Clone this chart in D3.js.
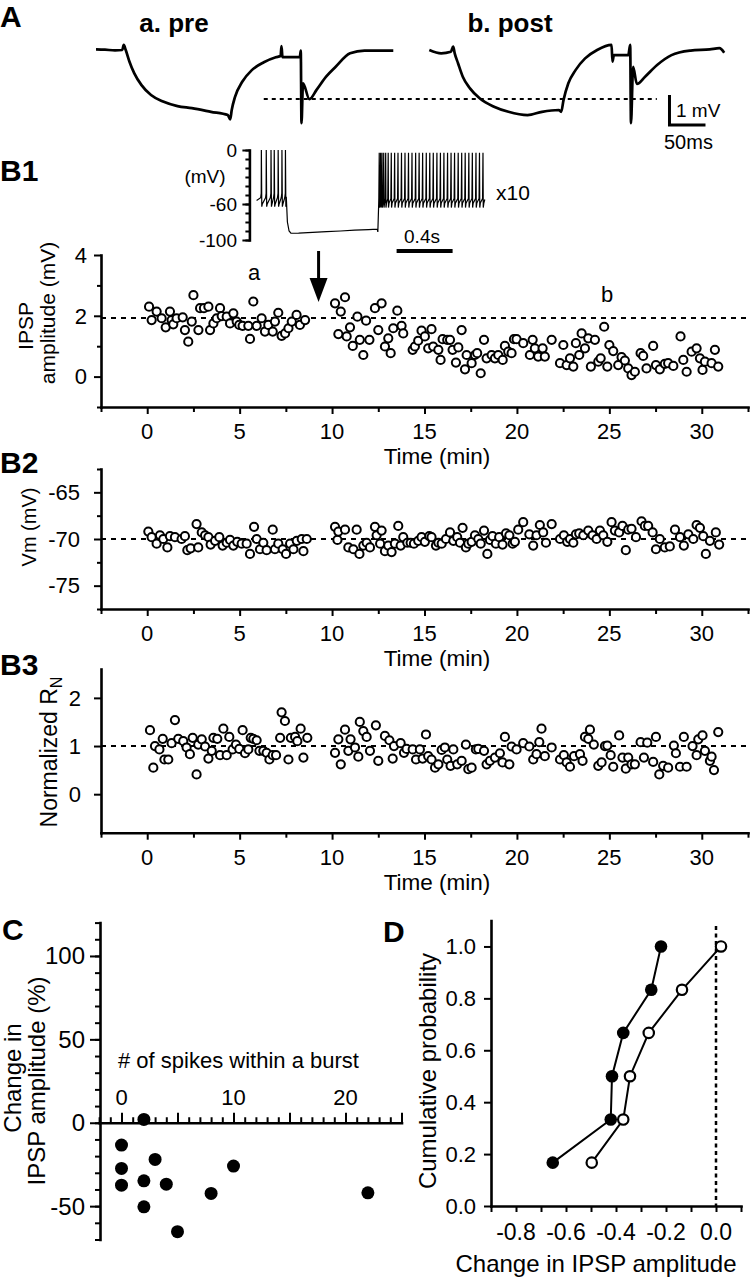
<!DOCTYPE html>
<html><head><meta charset="utf-8">
<script src="https://cdn.jsdelivr.net/npm/d3@7"></script>
<style>body{margin:0;background:#fff}svg{display:block}</style>
</head><body>
<svg id="fig" width="752" height="1280"></svg>
<script>
// ================= DATA =================
// Panel A traces: [time ms, mV relative to baseline]
const aPre = [[0,0.02],[12.5,0.01],[26.4,-0.01],[36.5,0],[38.5,0.17],[41.3,0],[46.5,-0.39],[53.2,-0.78],[63.2,-1.17],[76.4,-1.5],[93.1,-1.72],[113.2,-1.87],[133.1,-1.94],[159.7,-2.06],[183.1,-2.17],[186.4,-2.31],[188.5,-2.0],[193.1,-1.56],[203.1,-1.06],[216.4,-0.67],[233.1,-0.41],[249.7,-0.24],[256.4,-0.2],[257.6,0.13],[259.0,-0.24],[283.1,-0.24],[284.4,-0.02],[285.4,-2.44],[287.5,-1.11],[296.4,-1.64],[306.3,-1.33],[319.6,-0.89],[332.9,-0.56],[352.9,-0.11],[372.9,-0.02],[412.9,-0.02]];
const aPost = [[0,0],[16.5,-0.11],[29.9,-0.06],[33.2,0.11],[35.3,-0.11],[39.9,-0.44],[46.5,-0.89],[56.5,-1.28],[69.9,-1.61],[89.9,-1.89],[109.9,-2.06],[136.5,-2.17],[156.5,-2.06],[179.9,-2.0],[183.2,-2.06],[186.4,-1.67],[193.1,-1.11],[203.1,-0.67],[216.4,-0.28],[233.1,0],[253.1,0.17],[254.4,-0.39],[256.4,-0.17],[276.4,-0.17],[279.0,0.17],[280.1,-2.44],[283.1,-0.56],[288.3,-1.13],[299.7,-0.89],[316.4,-0.5],[336.4,-0.17],[362.9,-0.02],[389.6,0.02],[402.9,0.06],[409.6,-0.09]];
const aDottedLevel = -1.63;

// B1 inset: spike times (s) and hyperpolarised segment
const insetPreSpikes = [0.034,0.069,0.103,0.126,0.154,0.181,0.206];
const insetHyper = [[0.212,-52],[0.22,-80],[0.232,-90],[0.245,-92.5],[0.3,-92.3],[0.4,-91.5],[0.5,-90.8],[0.6,-90],[0.7,-89],[0.8,-88.5],[0.862,-88],[0.866,-91],[0.872,-60]];
const insetPostSpikes = [0.876,0.886,0.896,0.908,0.922,0.940,0.962,0.986,1.010,1.035,1.060,1.085,1.110,1.136,1.161,1.186,1.212,1.237,1.262,1.288,1.313,1.338,1.364,1.389,1.414,1.440,1.465,1.490,1.516,1.541,1.567,1.592,1.617];

// B1: IPSP amplitude (mV) vs time (min)
const b1Data = [[0.10,2.30],[0.24,1.86],[0.51,2.14],[0.78,1.92],[1.00,1.62],[1.23,2.14],[1.32,1.86],[1.41,1.72],[1.59,1.92],[1.92,1.95],[2.04,1.53],[2.22,1.15],[2.41,1.81],[2.50,2.68],[2.77,1.53],[2.86,2.25],[3.07,2.25],[3.31,2.30],[3.40,1.53],[3.58,1.75],[3.76,1.92],[3.94,2.25],[4.03,1.99],[4.30,1.97],[4.48,1.75],[4.66,2.08],[4.84,1.81],[4.98,1.70],[5.16,1.67],[5.47,1.67],[5.56,1.24],[5.74,2.47],[5.92,1.67],[6.19,1.92],[6.37,1.48],[6.55,1.70],[6.79,1.48],[6.91,1.81],[7.09,2.10],[7.27,1.34],[7.46,1.42],[7.64,1.59],[7.82,1.81],[8.08,2.03],[8.26,1.70],[8.54,1.86],
[10.16,2.41],[10.34,1.40],[10.47,2.14],[10.70,2.61],[10.79,1.32],[10.97,1.62],[11.12,1.01],[11.37,1.97],[11.50,1.21],[11.69,0.71],[11.84,1.84],[12.02,1.21],[12.32,2.25],[12.50,1.53],[12.68,2.41],[12.86,0.99],[13.04,1.26],[13.17,0.77],[13.31,1.59],[13.53,2.17],[13.76,1.67],[13.85,1.42],[14.36,0.88],[14.48,0.99],[14.66,1.18],[14.84,1.51],[15.02,1.32],[15.20,0.93],[15.38,1.56],[15.47,0.99],[15.75,0.88],[15.87,0.55],[15.98,1.23],[16.23,1.21],[16.38,1.21],[16.52,0.88],[16.70,0.46],[16.83,0.96],[17.01,1.53],[17.19,0.24],[17.28,0.71],[17.55,0.44],[17.73,0.71],[17.85,0.77],[18.04,0.11],[18.22,1.21],[18.36,0.60],[18.63,0.71],[18.81,0.60],[18.99,0.71],[19.23,0.55],[19.35,1.01],[19.53,0.82],[19.71,0.77],[19.84,1.23],[19.98,1.23],[20.34,1.10],[20.70,0.71],[20.85,1.21],[20.97,0.93],[21.15,0.66],[21.39,0.93],[21.51,0.66],[21.88,1.21],[22.33,0.44],[22.51,1.04],[22.69,0.38],[22.87,0.60],[23.05,0.33],[23.19,1.10],[23.37,0.71],[23.50,1.42],[23.68,0.93],[23.86,1.26],[24.00,0.33],[24.22,1.21],[24.40,0.49],[24.53,0.60],[24.72,1.64],[24.89,0.33],[25.00,1.04],[25.21,0.84],[25.48,0.38],[25.66,0.64],[25.84,0.53],[26.02,0.27],[26.20,0.05],[26.38,0.16],[26.69,0.77],[26.83,0.68],[27.01,0.27],[27.37,1.01],[27.52,0.38],[27.73,0.24],[28.00,0.42],[28.18,0.44],[28.46,0.35],[28.85,1.32],[29.00,0.55],[29.18,0.16],[29.45,0.82],[29.72,0.93],[29.90,0.60],[30.04,0.22],[30.17,0.49],[30.53,0.44],[30.71,0.88],[30.89,0.33]];
const b1Baseline = 1.93;

// B2: Vm (mV) vs time (min)
const b2Data = [[0.06,-69.2],[0.24,-69.8],[0.51,-70.5],[0.69,-69.6],[0.87,-70.0],[1.09,-70.9],[1.23,-69.7],[1.50,-69.8],[1.86,-70.0],[2.04,-69.7],[2.17,-71.2],[2.35,-71.0],[2.67,-68.4],[2.76,-70.9],[2.95,-69.3],[3.13,-69.6],[3.31,-69.8],[3.43,-70.6],[3.67,-70.2],[3.90,-69.8],[4.08,-70.7],[4.30,-70.4],[4.48,-70.1],[4.66,-70.7],[4.87,-70.3],[5.11,-70.5],[5.38,-70.5],[5.56,-71.6],[5.78,-68.7],[5.92,-70.0],[6.10,-71.1],[6.28,-70.4],[6.46,-71.2],[6.79,-69.0],[6.91,-71.1],[7.09,-70.5],[7.33,-71.1],[7.51,-71.6],[7.73,-70.5],[7.91,-71.1],[8.09,-70.2],[8.36,-70.0],[8.45,-71.3],[8.63,-70.0],
[10.16,-68.7],[10.29,-70.1],[10.34,-69.2],[10.70,-69.0],[10.88,-70.9],[11.15,-71.1],[11.33,-69.0],[11.48,-71.6],[11.69,-70.7],[11.87,-70.4],[12.05,-70.9],[12.32,-68.7],[12.41,-69.6],[12.60,-70.5],[12.68,-69.1],[12.86,-71.3],[13.04,-70.7],[13.22,-71.4],[13.40,-70.5],[13.58,-68.6],[13.71,-70.7],[13.85,-69.8],[14.07,-70.4],[14.25,-70.4],[14.43,-70.5],[14.66,-70.2],[14.84,-69.8],[15.02,-70.3],[15.26,-69.7],[15.38,-69.8],[15.62,-70.7],[15.75,-70.4],[15.93,-70.5],[16.16,-70.0],[16.38,-69.3],[16.56,-70.2],[16.77,-69.8],[16.92,-70.4],[17.06,-68.8],[17.24,-70.9],[17.37,-70.5],[17.55,-70.3],[17.73,-69.6],[17.91,-70.0],[18.04,-70.5],[18.22,-69.1],[18.40,-71.6],[18.54,-70.1],[18.68,-69.7],[18.86,-70.5],[19.04,-69.8],[19.22,-70.6],[19.41,-69.4],[19.59,-69.6],[19.77,-70.5],[19.89,-70.3],[20.07,-69.0],[20.34,-68.2],[20.67,-69.5],[20.88,-70.7],[21.06,-69.6],[21.24,-68.5],[21.42,-69.3],[21.57,-70.4],[21.88,-68.4],[22.33,-70.0],[22.54,-69.6],[22.72,-70.3],[22.87,-70.0],[23.05,-70.4],[23.19,-69.5],[23.37,-69.4],[23.59,-69.6],[23.86,-69.1],[24.09,-69.6],[24.31,-70.0],[24.49,-69.1],[24.67,-69.6],[24.89,-70.3],[25.12,-68.2],[25.30,-69.1],[25.53,-69.3],[25.71,-68.6],[25.89,-71.2],[26.02,-69.0],[26.20,-68.9],[26.44,-69.8],[26.74,-68.1],[26.92,-68.6],[27.10,-68.6],[27.34,-69.3],[27.52,-71.1],[27.73,-70.0],[28.00,-70.9],[28.27,-70.8],[28.55,-69.0],[28.82,-69.8],[29.03,-70.7],[29.27,-69.5],[29.54,-70.0],[29.72,-68.5],[29.90,-68.8],[30.08,-69.7],[30.22,-71.6],[30.44,-70.2],[30.76,-69.3],[30.94,-70.6]];
const b2Baseline = -70;

// B3: normalized input resistance vs time (min)
const b3Data = [[0.15,1.33],[0.33,0.55],[0.42,1.00],[0.66,0.93],[0.84,1.15],[0.93,0.72],[1.14,0.72],[1.32,1.06],[1.50,1.54],[1.68,1.15],[1.95,1.10],[2.13,0.97],[2.31,0.83],[2.46,1.17],[2.67,0.41],[2.76,1.03],[2.95,1.14],[3.13,0.99],[3.31,0.74],[3.49,0.90],[3.58,1.17],[3.79,1.15],[3.94,0.81],[4.12,1.36],[4.30,0.81],[4.44,1.19],[4.62,0.93],[4.80,1.03],[4.98,0.94],[5.16,1.33],[5.29,0.85],[5.47,0.93],[5.60,1.17],[5.74,1.15],[5.92,1.12],[6.07,0.90],[6.28,0.90],[6.46,0.86],[6.61,0.72],[6.79,0.81],[6.97,0.81],[7.19,1.17],[7.27,1.70],[7.45,1.52],[7.64,0.72],[7.77,1.17],[8.00,1.19],[8.12,1.10],[8.30,1.36],[8.45,0.76],[8.66,1.17],
[10.16,0.86],[10.34,1.14],[10.47,0.62],[10.70,1.34],[10.88,0.90],[11.00,1.14],[11.24,0.97],[11.42,0.78],[11.50,1.50],[11.69,1.31],[11.87,1.19],[12.05,0.90],[12.37,1.43],[12.50,0.69],[12.86,1.21],[13.10,1.12],[13.28,0.74],[13.35,1.00],[13.71,1.06],[13.89,0.86],[14.03,0.94],[14.36,0.93],[14.54,0.72],[14.75,0.93],[14.90,0.74],[15.08,1.24],[15.20,0.79],[15.38,0.72],[15.57,0.55],[15.75,0.62],[15.93,0.92],[16.10,0.97],[16.23,0.72],[16.41,0.59],[16.56,0.93],[16.77,0.62],[17.01,0.69],[17.24,1.03],[17.37,0.52],[17.55,0.55],[17.78,0.93],[17.91,0.94],[18.22,0.90],[18.36,0.62],[18.54,0.69],[18.81,0.76],[19.08,0.85],[19.22,0.66],[19.35,1.19],[19.59,0.62],[19.71,0.99],[19.98,0.93],[20.34,1.06],[20.67,0.99],[20.88,0.72],[21.06,0.83],[21.21,1.08],[21.33,1.36],[21.51,0.79],[21.88,0.97],[22.33,0.72],[22.54,0.81],[22.69,0.66],[22.87,0.57],[23.09,0.79],[23.41,0.83],[23.55,0.69],[23.68,1.19],[23.86,1.15],[23.95,1.34],[24.16,1.03],[24.40,0.59],[24.58,0.66],[24.76,1.00],[24.89,1.01],[25.07,0.81],[25.21,0.57],[25.53,1.22],[25.71,0.76],[25.89,0.53],[26.02,0.76],[26.20,0.62],[26.38,0.62],[26.69,1.08],[26.87,0.76],[27.05,1.07],[27.37,0.67],[27.52,1.19],[27.70,0.41],[27.91,0.59],[28.18,0.55],[28.49,1.01],[28.60,0.85],[28.82,0.57],[29.03,1.19],[29.18,0.57],[29.50,1.00],[29.72,0.81],[29.81,1.14],[30.04,1.22],[30.17,0.90],[30.44,0.69],[30.53,0.78],[30.66,0.50],[30.89,1.29]];
const b3Baseline = 1;

// C: spikes within a burst vs change in IPSP amplitude (%)
const cSpikes = [2,0,0,0,3,2,4,2,8,5,10,22];
const cChange = [2,-13.4,-27.4,-37.4,-22,-34.8,-36.8,-50.4,-42.4,-65.3,-26,-42];

// D: cumulative probability of change in IPSP amplitude
const dProb = [0.167,0.333,0.5,0.667,0.833,1.0];
const dFilled = [-0.653,-0.421,-0.416,-0.371,-0.259,-0.22];
const dOpen = [-0.497,-0.371,-0.344,-0.269,-0.136,0.02];

// tick labels
const bTimeTicks = [0,5,10,15,20,25,30];
const b1YTicks = [0,2,4];
const b2YTicks = [-75,-70,-65];
const b3YTicks = [0,1,2];
const cYTicks = [-50,0,50,100];
const cXTicks = [0,10,20];
const dXTicks = [-0.8,-0.6,-0.4,-0.2,0.0];
const dYTicks = [0,0.2,0.4,0.6,0.8,1.0];

// ================= DRAWING =================
const FONT = '"Liberation Sans", Arial, Helvetica, sans-serif';
const svg = d3.select("#fig");
svg.append("rect").attr("width",752).attr("height",1280).attr("fill","#fff");

function txt(x,y,s,size,opts={}){
  const t = svg.append("text").attr("x",x).attr("y",y).text(s)
    .attr("font-family",FONT).attr("font-size",size).attr("fill","#000")
    .attr("text-anchor",opts.anchor||"start");
  if(opts.bold) t.attr("font-weight","bold");
  if(opts.rotate!==undefined) t.attr("transform",`rotate(${opts.rotate},${x},${y})`);
  if(opts.dy) t.attr("dy",opts.dy);
  return t;
}
function styleAxis(g){
  g.select(".domain").attr("stroke","#000").attr("stroke-width",2.6).attr("stroke-linecap","square");
  g.selectAll(".tick line").attr("stroke","#000").attr("stroke-width",2);
  g.selectAll(".tick text").remove();
}
function axisTicks(axisFn, scale, values, size, transform, keepDomain){
  const g = svg.append("g").attr("transform",transform)
    .call(axisFn(scale).tickValues(values).tickSize(size).tickSizeOuter(0).tickFormat(""));
  styleAxis(g);
  if(!keepDomain) g.select(".domain").remove();
  return g;
}
function range(a,b,s){const r=[];for(let v=a;v<=b+1e-9;v+=s)r.push(+v.toFixed(4));return r;}

// ---------- Panel A ----------
txt(0,27,"A",30,{bold:true});
txt(174,32,"a. pre",26,{bold:true,anchor:"middle"});
txt(510,32,"b. post",26,{bold:true,anchor:"middle"});
const xPre = d3.scaleLinear().domain([0,100]).range([96,168]);
const xPost = d3.scaleLinear().domain([0,100]).range([429.3,501.3]);
const yA = d3.scaleLinear().domain([0,-1]).range([50,80]);
svg.append("path").datum(aPre).attr("fill","none").attr("stroke","#000").attr("stroke-width",2.7).attr("stroke-linejoin","round")
  .attr("d",d3.line().x(d=>xPre(d[0])).y(d=>yA(d[1])).curve(d3.curveMonotoneX));
svg.append("path").datum(aPost).attr("fill","none").attr("stroke","#000").attr("stroke-width",2.7).attr("stroke-linejoin","round")
  .attr("d",d3.line().x(d=>xPost(d[0])).y(d=>yA(d[1])).curve(d3.curveMonotoneX));
svg.append("line").attr("x1",xPre(233)).attr("x2",xPost(316)).attr("y1",yA(aDottedLevel)).attr("y2",yA(aDottedLevel))
  .attr("stroke","#000").attr("stroke-width",2).attr("stroke-dasharray","4,4");
// scale bar 1 mV / 50 ms
const sbX = xPost(333.6), sbY = yA(-2.5);
svg.append("path").attr("d",`M${sbX},${yA(-1.5)}V${sbY}H${sbX + (xPost(50)-xPost(0))}`)
  .attr("fill","none").attr("stroke","#000").attr("stroke-width",3);
txt(676,117,"1 mV",19);
txt(664,149,"50ms",20);

// ---------- Panel B1 inset ----------
txt(0,181,"B1",30,{bold:true});
const xi = d3.scaleLinear().domain([0,1]).range([256.6,396.6]);
const yi = d3.scaleLinear().domain([-100,0]).range([240,150]);
const ipts = [[0,-56]];
insetPreSpikes.forEach(ts=>{ipts.push([ts-0.005,-53],[ts-0.001,-48],[ts,0],[ts+0.003,-63],[ts+0.007,-60]);});
insetHyper.forEach(p=>ipts.push(p));
insetPostSpikes.forEach(ts=>{ipts.push([ts-0.003,-54],[ts,-3],[ts+0.002,-64],[ts+0.006,-59]);});
ipts.push([1.63,-55]);
svg.append("path").datum(ipts).attr("fill","none").attr("stroke","#000").attr("stroke-width",1.2)
  .attr("d",d3.line().x(d=>xi(d[0])).y(d=>yi(d[1])));
axisTicks(d3.axisLeft, yi, range(-100,0,10), 4, `translate(249.4,0)`, true);
axisTicks(d3.axisLeft, yi, [0,-60,-100], 7, `translate(249.4,0)`, false);
[[0,"0"],[-60,"-60"],[-100,"-100"]].forEach(([v,s])=>txt(237,yi(v),s,19,{anchor:"end",dy:"0.35em"}));
txt(205,183,"(mV)",19,{anchor:"middle"});
txt(496,200,"x10",21);
svg.append("line").attr("x1",xi(1.0)).attr("x2",xi(1.4)).attr("y1",251).attr("y2",251).attr("stroke","#000").attr("stroke-width",4);
txt(422,243,"0.4s",19,{anchor:"middle"});

// ---------- B panels ----------
const xT = d3.scaleLinear().domain([-2.5,32.5]).range([101,748]);
function timePanel(cfg){
  const y = cfg.y;
  const axisY = y.range()[0];
  // dashed baseline
  svg.append("line").attr("x1",xT(-2.5)).attr("x2",xT(32.5)).attr("y1",y(cfg.base)).attr("y2",y(cfg.base))
    .attr("stroke","#000").attr("stroke-width",2).attr("stroke-dasharray","5,5");
  // axes
  axisTicks(d3.axisBottom, xT, range(-2.5,32.5,5), 5, `translate(0,${axisY})`, true);
  axisTicks(d3.axisBottom, xT, bTimeTicks, 7, `translate(0,${axisY})`, false);
  axisTicks(d3.axisLeft, y, cfg.yMinor, 4, `translate(${xT(-2.5)},0)`, true);
  axisTicks(d3.axisLeft, y, cfg.yMajor, 7, `translate(${xT(-2.5)},0)`, false);
  bTimeTicks.forEach(v=>txt(xT(v),axisY+32,String(v),22,{anchor:"middle"}));
  txt(437,axisY+57,"Time (min)",22.5,{anchor:"middle"});
  cfg.yMajor.forEach(v=>txt(cfg.labelEnd,y(v),String(v),22,{anchor:"end",dy:"0.35em"}));
  // points
  svg.append("g").selectAll("circle").data(cfg.data).join("circle")
    .attr("cx",d=>xT(d[0])).attr("cy",d=>y(d[1])).attr("r",4.1)
    .attr("fill","#fff").attr("stroke","#000").attr("stroke-width",2);
}
const yB1 = d3.scaleLinear().domain([-1,4]).range([407,255]);
timePanel({y:yB1, base:b1Baseline, yMajor:b1YTicks, yMinor:[-1,1,3], labelEnd:87, data:b1Data});
txt(33,326,"IPSP",21,{rotate:-90,anchor:"middle"});
txt(55,313,"amplitude (mV)",21,{rotate:-90,anchor:"middle"});
txt(254,280,"a",22,{anchor:"middle"});
txt(607,302,"b",22,{anchor:"middle"});
// arrow at time of burst induction
const arrX = xT(9.27);
svg.append("line").attr("x1",arrX).attr("x2",arrX).attr("y1",251).attr("y2",282).attr("stroke","#000").attr("stroke-width",3);
svg.append("path").attr("d",`M${arrX-9},278L${arrX+9},278L${arrX},302Z`).attr("fill","#000");

const yB2 = d3.scaleLinear().domain([-77.5,-62.5]).range([609,469]);
txt(0,473,"B2",30,{bold:true});
timePanel({y:yB2, base:b2Baseline, yMajor:b2YTicks, yMinor:[-77.5,-72.5,-67.5,-62.5], labelEnd:80, data:b2Data});
txt(36,527,"Vm (mV)",20,{rotate:-90,anchor:"middle"});

const yB3 = d3.scaleLinear().domain([-0.8,2.6]).range([832.7,669]);
txt(0,675,"B3",30,{bold:true});
timePanel({y:yB3, base:b3Baseline, yMajor:b3YTicks, yMinor:[], labelEnd:81, data:b3Data});
const rn = txt(57,752,"Normalized R",23,{rotate:-90,anchor:"middle"});
rn.append("tspan").attr("font-size",16).attr("dy",5).text("N");

// ---------- Panel C ----------
txt(2,940,"C",30,{bold:true});
const xC = d3.scaleLinear().domain([-2,25]).range([99.1,401.5]);
const yC = d3.scaleLinear().domain([-70,120]).range([1239.5,922.6]);
axisTicks(d3.axisLeft, yC, range(-70,120,10), 5, `translate(100,0)`, true);
axisTicks(d3.axisLeft, yC, cYTicks, 10, `translate(100,0)`, false);
axisTicks(d3.axisTop, xC, range(-2,25,1), 5.5, `translate(0,${yC(0)})`, true);
axisTicks(d3.axisTop, xC, range(0,25,5), 10, `translate(0,${yC(0)})`, false);
cYTicks.forEach(v=>txt(85,yC(v),String(v),24,{anchor:"end",dy:"0.35em"}));
cXTicks.forEach(v=>txt(xC(v),1105,String(v),22,{anchor:"middle"}));
txt(118,1068,"# of spikes within a burst",22);
txt(21,1078,"Change in",24,{rotate:-90,anchor:"middle"});
txt(45,1081,"IPSP amplitude (%)",24,{rotate:-90,anchor:"middle"});
svg.append("g").selectAll("circle").data(cSpikes.map((s,i)=>[s,cChange[i]])).join("circle")
  .attr("cx",d=>xC(d[0])).attr("cy",d=>yC(d[1])).attr("r",6.5).attr("fill","#000");

// ---------- Panel D ----------
txt(383,942,"D",30,{bold:true});
const xD = d3.scaleLinear().domain([-0.9,0.1]).range([491,741]);
const yD = d3.scaleLinear().domain([0,1.1]).range([1206,920.5]);
svg.append("line").attr("x1",xD(0)).attr("x2",xD(0)).attr("y1",926).attr("y2",yD(0))
  .attr("stroke","#000").attr("stroke-width",2.5).attr("stroke-dasharray","4,3.5");
axisTicks(d3.axisBottom, xD, range(-0.9,0.1,0.1), 6, `translate(0,${yD(0)})`, true);
axisTicks(d3.axisLeft, yD, dYTicks, 7, `translate(${xD(-0.9)},0)`, true);
dXTicks.forEach(v=>txt(xD(v),1240,v.toFixed(1),23,{anchor:"middle"}));
dYTicks.forEach(v=>txt(476,yD(v),v.toFixed(1),22,{anchor:"end",dy:"0.35em"}));
txt(436,1071,"Cumulative probability",24,{rotate:-90,anchor:"middle"});
txt(596,1272,"Change in IPSP amplitude",24,{anchor:"middle"});
const dLine = d3.line().x(d=>xD(d[0])).y(d=>yD(d[1]));
const fPts = dFilled.map((v,i)=>[v,dProb[i]]);
const oPts = dOpen.map((v,i)=>[v,dProb[i]]);
svg.append("path").datum(fPts).attr("d",dLine).attr("fill","none").attr("stroke","#000").attr("stroke-width",2);
svg.append("path").datum(oPts).attr("d",dLine).attr("fill","none").attr("stroke","#000").attr("stroke-width",2);
svg.append("g").selectAll("circle").data(fPts).join("circle")
  .attr("cx",d=>xD(d[0])).attr("cy",d=>yD(d[1])).attr("r",6.3).attr("fill","#000");
svg.append("g").selectAll("circle").data(oPts).join("circle")
  .attr("cx",d=>xD(d[0])).attr("cy",d=>yD(d[1])).attr("r",5.2).attr("fill","#fff").attr("stroke","#000").attr("stroke-width",2.2);
</script>
</body></html>
